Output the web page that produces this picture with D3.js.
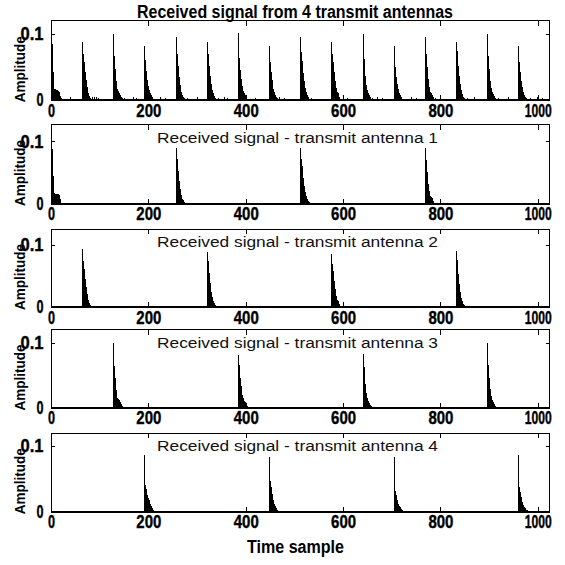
<!DOCTYPE html>
<html>
<head>
<meta charset="utf-8">
<script src="https://cdn.jsdelivr.net/npm/d3@7"></script>
<style>
  body { margin: 0; background: #fff; }
  svg { display: block; }
</style>
</head>
<body>
<div id="chart"></div>
<script>
// ---------------- data ----------------
var xTicks = [0, 200, 400, 600, 800, 1000];
var yTicks = [0, 0.1];
var xMax = 1024;
var yMax = [0.12, 0.127, 0.126, 0.12, 0.12];

var panelTitles = [
  "Received signal from 4 transmit antennas",
  "Received signal - transmit antenna 1",
  "Received signal - transmit antenna 2",
  "Received signal - transmit antenna 3",
  "Received signal - transmit antenna 4"
];
var yLabel = "Amplitude";
var xLabel = "Time sample";

// panel 1: received mix, pulse start samples and taps of each pulse
var mixStarts = [1, 65, 129, 193, 257, 321, 385, 449, 513, 577, 641, 705, 769, 833, 897, 961];
var mixTaps = [
  [0.095, 0.093, 0.085, 0.066, 0.042, 0.024, 0.016, 0.015, 0.016, 0.014, 0.015, 0.014, 0.015, 0.013, 0.014, 0.013, 0.012, 0.010, 0.006, 0.003],
  [0.088, 0.070, 0.066, 0.058, 0.050, 0.043, 0.036, 0.030, 0.024, 0.019, 0.015, 0.012, 0.010, 0.008, 0.006, 0.004, 0.003, 0.002],
  [0.100, 0.066, 0.060, 0.047, 0.035, 0.028, 0.020, 0.016, 0.014, 0.013, 0.012, 0.011, 0.010, 0.008, 0.007, 0.005, 0.004, 0.003],
  [0.082, 0.060, 0.052, 0.044, 0.036, 0.030, 0.025, 0.021, 0.018, 0.015, 0.013, 0.011, 0.009, 0.007, 0.005, 0.004, 0.003, 0.002],
  [0.095, 0.074, 0.070, 0.061, 0.051, 0.042, 0.035, 0.028, 0.022, 0.018, 0.015, 0.012, 0.010, 0.008, 0.006, 0.005, 0.004, 0.003],
  [0.088, 0.076, 0.070, 0.061, 0.052, 0.044, 0.036, 0.030, 0.024, 0.019, 0.015, 0.012, 0.010, 0.008, 0.006, 0.004, 0.003, 0.002],
  [0.101, 0.070, 0.063, 0.054, 0.046, 0.039, 0.032, 0.026, 0.021, 0.017, 0.014, 0.012, 0.010, 0.008, 0.007, 0.005, 0.004, 0.003],
  [0.082, 0.058, 0.050, 0.043, 0.036, 0.030, 0.025, 0.021, 0.017, 0.014, 0.012, 0.010, 0.008, 0.006, 0.005, 0.004, 0.003, 0.002],
  [0.095, 0.072, 0.068, 0.059, 0.050, 0.041, 0.034, 0.028, 0.022, 0.018, 0.015, 0.012, 0.009, 0.007, 0.006, 0.004, 0.003, 0.002],
  [0.088, 0.070, 0.066, 0.058, 0.050, 0.042, 0.035, 0.029, 0.023, 0.018, 0.014, 0.011, 0.012, 0.010, 0.007, 0.005, 0.003, 0.002],
  [0.100, 0.068, 0.062, 0.052, 0.043, 0.036, 0.029, 0.023, 0.018, 0.015, 0.012, 0.010, 0.008, 0.007, 0.006, 0.004, 0.003, 0.002],
  [0.081, 0.056, 0.050, 0.042, 0.035, 0.029, 0.024, 0.020, 0.016, 0.013, 0.011, 0.010, 0.008, 0.006, 0.005, 0.004, 0.003, 0.002],
  [0.095, 0.075, 0.070, 0.060, 0.050, 0.040, 0.032, 0.025, 0.020, 0.016, 0.012, 0.010, 0.011, 0.010, 0.008, 0.006, 0.004, 0.003],
  [0.088, 0.074, 0.070, 0.061, 0.052, 0.044, 0.036, 0.030, 0.024, 0.019, 0.015, 0.012, 0.009, 0.007, 0.005, 0.004, 0.003, 0.002],
  [0.100, 0.066, 0.058, 0.047, 0.037, 0.029, 0.023, 0.018, 0.014, 0.012, 0.010, 0.009, 0.008, 0.006, 0.005, 0.004, 0.003, 0.002],
  [0.082, 0.058, 0.050, 0.042, 0.035, 0.029, 0.024, 0.019, 0.015, 0.012, 0.010, 0.008, 0.007, 0.005, 0.004, 0.003, 0.002, 0.002]
];
// low noise floor between pulses in the mix: [sample, amplitude]
var mixFloor = [
  [22, 0.003], [30, 0.002], [40, 0.004], [48, 0.002], [86, 0.004], [90, 0.005], [94, 0.004], [98, 0.003],
  [110, 0.002], [150, 0.003], [160, 0.002], [170, 0.004], [176, 0.003], [215, 0.002], [225, 0.004], [235, 0.003],
  [280, 0.003], [290, 0.002], [300, 0.004], [345, 0.003], [356, 0.004], [362, 0.003], [410, 0.002], [420, 0.003],
  [470, 0.004], [480, 0.003], [492, 0.002], [535, 0.003], [545, 0.002], [600, 0.004], [610, 0.003], [620, 0.002],
  [660, 0.003], [670, 0.004], [680, 0.003], [728, 0.002], [740, 0.004], [750, 0.003], [790, 0.003], [800, 0.004],
  [812, 0.002], [855, 0.003], [870, 0.004], [920, 0.003], [930, 0.002], [940, 0.004], [985, 0.003], [1000, 0.004],
  [1010, 0.003], [1020, 0.002]
];

var ant1Starts = [1, 257, 513, 769];
var ant1Taps = [
  [0.097, 0.095, 0.088, 0.070, 0.045, 0.025, 0.017, 0.016, 0.016, 0.015, 0.016, 0.015, 0.015, 0.014, 0.015, 0.014, 0.013, 0.012, 0.008, 0.004],
  [0.089, 0.074, 0.071, 0.062, 0.052, 0.043, 0.036, 0.029, 0.023, 0.019, 0.016, 0.013, 0.010, 0.008, 0.006, 0.005, 0.004, 0.003],
  [0.089, 0.072, 0.070, 0.060, 0.050, 0.041, 0.034, 0.028, 0.022, 0.018, 0.015, 0.012, 0.009, 0.008, 0.006, 0.004, 0.003, 0.002],
  [0.089, 0.075, 0.070, 0.061, 0.050, 0.040, 0.032, 0.025, 0.020, 0.015, 0.012, 0.010, 0.011, 0.010, 0.009, 0.006, 0.004, 0.003]
];

var ant2Starts = [65, 321, 577, 833];
var ant2Taps = [
  [0.093, 0.074, 0.070, 0.062, 0.054, 0.046, 0.039, 0.032, 0.026, 0.021, 0.017, 0.014, 0.011, 0.009, 0.007, 0.005, 0.004, 0.003],
  [0.089, 0.080, 0.074, 0.064, 0.055, 0.046, 0.038, 0.031, 0.025, 0.020, 0.016, 0.013, 0.010, 0.008, 0.006, 0.005, 0.003, 0.002],
  [0.085, 0.070, 0.066, 0.058, 0.050, 0.042, 0.035, 0.029, 0.023, 0.018, 0.014, 0.011, 0.012, 0.010, 0.007, 0.005, 0.003, 0.002],
  [0.091, 0.076, 0.072, 0.063, 0.054, 0.045, 0.037, 0.030, 0.024, 0.019, 0.015, 0.012, 0.009, 0.007, 0.005, 0.004, 0.003, 0.002]
];

var ant3Starts = [129, 385, 641, 897];
var ant3Taps = [
  [0.100, 0.064, 0.060, 0.045, 0.032, 0.027, 0.018, 0.015, 0.014, 0.013, 0.012, 0.011, 0.010, 0.009, 0.008, 0.006, 0.005, 0.003],
  [0.081, 0.072, 0.065, 0.055, 0.046, 0.040, 0.033, 0.026, 0.020, 0.016, 0.014, 0.012, 0.010, 0.009, 0.008, 0.006, 0.005, 0.004, 0.003, 0.002],
  [0.082, 0.068, 0.062, 0.052, 0.043, 0.036, 0.029, 0.023, 0.018, 0.015, 0.012, 0.010, 0.008, 0.007, 0.006, 0.004, 0.003, 0.002],
  [0.100, 0.066, 0.058, 0.046, 0.036, 0.028, 0.022, 0.017, 0.014, 0.012, 0.010, 0.009, 0.008, 0.006, 0.005, 0.004, 0.003, 0.002]
];

var ant4Starts = [193, 449, 705, 961];
var ant4Taps = [
  [0.086, 0.040, 0.038, 0.034, 0.029, 0.025, 0.022, 0.020, 0.019, 0.017, 0.015, 0.012, 0.008, 0.008, 0.007, 0.005, 0.003, 0.002],
  [0.084, 0.046, 0.042, 0.037, 0.032, 0.027, 0.023, 0.020, 0.017, 0.014, 0.012, 0.010, 0.008, 0.006, 0.005, 0.004, 0.003, 0.002],
  [0.084, 0.035, 0.032, 0.029, 0.025, 0.021, 0.017, 0.014, 0.011, 0.009, 0.008, 0.008, 0.007, 0.006, 0.004, 0.003, 0.002, 0.002],
  [0.086, 0.038, 0.034, 0.030, 0.026, 0.022, 0.018, 0.015, 0.012, 0.010, 0.008, 0.007, 0.006, 0.005, 0.004, 0.003, 0.002, 0.002]
];

// ---------------- layout ----------------
var W = 565, H = 565;
var left = 51, right = 549.5;
var panelTop = [20.5, 124.5, 229, 329.5, 433];
var panelBottom = [100, 203.5, 307, 407.5, 511.5];
var font = "'Liberation Sans', Arial, Helvetica, sans-serif";

var panels = [
  {starts: mixStarts, taps: mixTaps, floor: mixFloor},
  {starts: ant1Starts, taps: ant1Taps, floor: []},
  {starts: ant2Starts, taps: ant2Taps, floor: []},
  {starts: ant3Starts, taps: ant3Taps, floor: []},
  {starts: ant4Starts, taps: ant4Taps, floor: []}
];

// flatten pulses into one bar per sample
function toBars(p){
  var bars = [];
  p.starts.forEach(function(s, k){
    p.taps[k].forEach(function(v, j){ bars.push({s: s + j, v: v}); });
  });
  p.floor.forEach(function(f){ bars.push({s: f[0], v: f[1]}); });
  return bars;
}

// condensed look of the original labels
function tickLen(d){
  var t = String(d);
  if (t.length == 1) return 7;
  if (t.length == 3) return 25;
  return 27;
}

var svg = d3.select("#chart").append("svg")
  .attr("width", W)
  .attr("height", H)
  .style("font-family", font);

var x = d3.scaleLinear().domain([0, xMax]).range([left, right]);

panels.forEach(function(p, i){
  var top = panelTop[i], bottom = panelBottom[i];
  var y = d3.scaleLinear().domain([0, yMax[i]]).range([bottom, top]);
  var g = svg.append("g").attr("class", "panel");

  // bars
  g.append("g")
    .selectAll("rect")
    .data(toBars(p))
    .enter()
    .append("rect")
      .attr("x", function(d){ return Math.floor(x(d.s)); })
      .attr("y", function(d){ return y(d.v); })
      .attr("width", 1)
      .attr("height", function(d){ return y(0) - y(d.v); })
      .attr("fill", "#000")
      .attr("shape-rendering", "crispEdges");

  // box
  g.append("rect")
    .attr("x", left)
    .attr("y", top)
    .attr("width", right - left)
    .attr("height", bottom - top)
    .attr("fill", "none")
    .attr("stroke", "#000")
    .attr("stroke-width", 1)
    .attr("shape-rendering", "crispEdges");
  g.append("line")
    .attr("x1", left).attr("x2", right)
    .attr("y1", bottom).attr("y2", bottom)
    .attr("stroke", "#000")
    .attr("stroke-width", 2)
    .attr("shape-rendering", "crispEdges");

  // inward ticks on all four sides
  var xb = g.append("g")
    .attr("transform", `translate(0,${bottom})`)
    .call(d3.axisBottom(x).tickValues(xTicks).tickSizeInner(-5).tickSizeOuter(0).tickPadding(4).tickFormat(d3.format("d")));
  g.append("g")
    .attr("transform", `translate(0,${top})`)
    .call(d3.axisTop(x).tickValues(xTicks).tickSizeInner(-5).tickSizeOuter(0).tickFormat(""));
  var yl = g.append("g")
    .attr("transform", `translate(${left},0)`)
    .call(d3.axisLeft(y).tickValues(yTicks).tickSizeInner(-4).tickSizeOuter(0).tickPadding(7.5).tickFormat(function(d){ return d == 0 ? "0" : "0.1"; }));
  g.append("g")
    .attr("transform", `translate(${right},0)`)
    .call(d3.axisRight(y).tickValues(yTicks).tickSizeInner(-4).tickSizeOuter(0).tickFormat(""));

  g.selectAll(".domain").remove();
  g.selectAll(".tick line").attr("shape-rendering", "crispEdges");

  xb.selectAll("text")
    .attr("font-family", font)
    .attr("font-size", 18)
    .attr("font-weight", "bold")
    .attr("fill", "#000")
    .attr("stroke", "#000")
    .attr("stroke-width", 0.4)
    .attr("textLength", function(d){ return tickLen(d); })
    .attr("lengthAdjust", "spacingAndGlyphs");
  yl.selectAll("text")
    .attr("font-family", font)
    .attr("font-size", 18)
    .attr("font-weight", "bold")
    .attr("fill", "#000")
    .attr("stroke", "#000")
    .attr("stroke-width", 0.4)
    .attr("textLength", function(d){ return d == 0 ? 7 : 23; })
    .attr("lengthAdjust", "spacingAndGlyphs");

  // y label
  var cy = (top + bottom) / 2 + 9;
  g.append("text")
    .attr("transform", `translate(25,${cy}) rotate(-90)`)
    .attr("text-anchor", "middle")
    .attr("font-size", 14)
    .attr("font-weight", "bold")
    .attr("textLength", 66)
    .attr("lengthAdjust", "spacingAndGlyphs")
    .text(yLabel);

  // title
  if (i == 0) {
    g.append("text")
      .attr("x", 295)
      .attr("y", 18)
      .attr("text-anchor", "middle")
      .attr("font-size", 18)
      .attr("font-weight", "bold")
      .attr("textLength", 316)
      .attr("lengthAdjust", "spacingAndGlyphs")
      .text(panelTitles[i]);
  } else {
    g.append("text")
      .attr("x", 297.5)
      .attr("y", top + 18.4)
      .attr("text-anchor", "middle")
      .attr("font-size", 15.5)
      .attr("fill", "#111")
      .attr("textLength", 281)
      .attr("lengthAdjust", "spacingAndGlyphs")
      .text(panelTitles[i]);
  }
});

// x label
svg.append("text")
  .attr("x", 295.5)
  .attr("y", 553)
  .attr("text-anchor", "middle")
  .attr("font-size", 17.5)
  .attr("font-weight", "bold")
  .attr("textLength", 97)
  .attr("lengthAdjust", "spacingAndGlyphs")
  .text(xLabel);
</script>
</body>
</html>
